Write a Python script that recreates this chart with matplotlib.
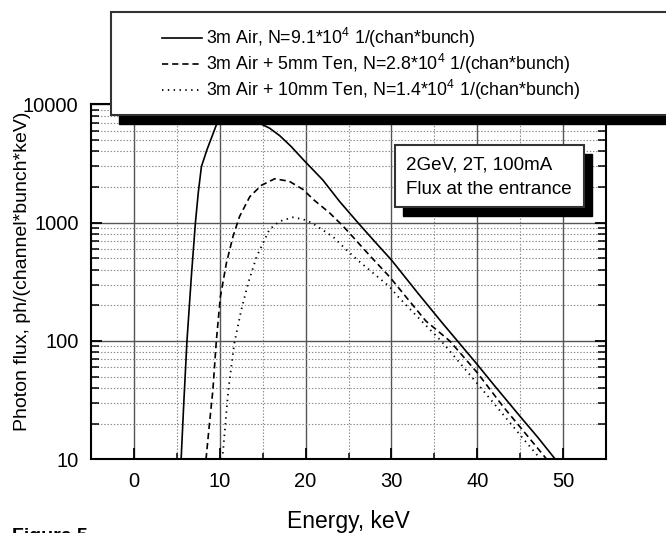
import matplotlib
matplotlib.use('Agg')
import matplotlib.pyplot as plt
from matplotlib.patches import Rectangle
from matplotlib.lines import Line2D
from matplotlib.ticker import FixedLocator, LogLocator, MultipleLocator, NullFormatter

plt.rcParams['font.family'] = ['Liberation Sans', 'DejaVu Sans']
plt.rcParams['mathtext.fontset'] = 'custom'
plt.rcParams['mathtext.rm'] = 'Liberation Sans'
plt.rcParams['mathtext.default'] = 'regular'
plt.rcParams['lines.scale_dashes'] = False

# ---------------- data ----------------
air_E = [5.5, 5.83, 6.18, 6.69, 7.16, 7.5, 7.86, 8.5, 8.94, 9.67, 10.5, 12.0, 13.5,
         14.65, 15.8, 17.0, 18.3, 19.9, 22.0, 24.0, 26.1, 28.0, 30.0, 33.1, 36.0,
         39.9, 42.0, 45.0, 47.0, 49.1]
air_F = [10, 32, 100, 350, 990, 1800, 2970, 4120, 5000, 6900, 7600, 7900, 7600,
         6920, 6300, 5430, 4420, 3310, 2300, 1500, 1000, 700, 484, 253, 140,
         64.6, 42, 23, 15.5, 10]

ten5_E = [8.4, 8.8, 9.2, 9.6, 10.07, 10.77, 11.54, 12.3, 13.5, 14.85, 16.4, 18.1,
          19.7, 21.0, 22.8, 24.4, 25.5, 27.5, 29.8, 31.7, 34.0, 36.8, 40.0, 43.0,
          46.0, 48.1]
ten5_F = [10, 20, 38.5, 100, 236, 454, 763, 1125, 1660, 2070, 2350, 2240,
          1910, 1550, 1210, 930, 760, 525, 348, 236, 148, 100, 54, 28,
          15.3, 10]

ten10_E = [10.3, 11.0, 11.7, 12.5, 13.3, 14.3, 15.4, 15.8, 17.0, 18.5, 19.7, 20.7,
           23.2, 24.8, 26.1, 29.8, 30.8, 33.0, 35.8, 39.9, 43.0, 45.5, 47.4]
ten10_F = [10, 38.5, 96, 182, 307, 518, 763, 880, 1030, 1110, 1070, 1000,
           760, 585, 480, 287, 236, 161, 100, 44.6, 24, 14.5, 10]

labels = ['3m Air, N=9.1*10$^{4}$ 1/(chan*bunch)',
          '3m Air + 5mm Ten, N=2.8*10$^{4}$ 1/(chan*bunch)',
          '3m Air + 10mm Ten, N=1.4*10$^{4}$ 1/(chan*bunch)']
x_ticks = [0, 10, 20, 30, 40, 50]
y_ticks = [10, 100, 1000, 10000]
y_ticklabels = ['10', '100', '1000', '10000']
info_lines = ['2GeV, 2T, 100mA', 'Flux at the entrance']

# ---------------- layout helpers ----------------
W, H = 666, 533
fig = plt.figure(figsize=(W / 100, H / 100), dpi=100)


def fx(px):
    return px / W


def fy(py):
    return 1 - py / H


L, R, T, B = 91, 606, 104.4, 459.3
ax = fig.add_axes([fx(L), fy(B), fx(R) - fx(L), fy(T) - fy(B)])

styles = [dict(color='black', lw=1.2, ls='-'),
          dict(color='black', lw=1.2, ls=(0, (4.5, 2.8))),
          dict(color='black', lw=1.3, ls=(0, (1.0, 3.2)))]

ax.plot(air_E, air_F, **styles[0])
ax.plot(ten5_E, ten5_F, **styles[1])
ax.plot(ten10_E, ten10_F, **styles[2])

ax.set_yscale('log')
ax.set_xlim(-5, 55)
ax.set_ylim(10, 10000)

ax.xaxis.set_major_locator(FixedLocator(x_ticks))
ax.xaxis.set_minor_locator(MultipleLocator(5))
ax.yaxis.set_major_locator(FixedLocator(y_ticks))
ax.set_yticklabels(y_ticklabels)
ax.yaxis.set_minor_locator(LogLocator(base=10, subs=range(2, 10)))
ax.yaxis.set_minor_formatter(NullFormatter())

ax.grid(True, which='major', color='#555555', lw=1.0, ls='-')
ax.grid(True, which='minor', color='#8a8a8a', lw=0.8, ls=(0, (1, 1.3)))
ax.set_axisbelow(True)

ax.tick_params(which='both', direction='in', top=True, right=True, color='black')
ax.tick_params(which='major', length=8, width=1.3, labelsize=14.5, pad=9)
ax.tick_params(axis='x', which='minor', length=4.5, width=1.1)
ax.tick_params(axis='y', which='minor', length=6, width=1.1)
for s in ax.spines.values():
    s.set_linewidth(1.5)
    s.set_color('black')

ax.set_xlabel('Energy, keV', fontsize=16.5)
ax.xaxis.set_label_coords(0.5, (B - 510) / (B - T))
ax.set_ylabel('Photon flux, ph/(channel*bunch*keV)', fontsize=14)
ax.yaxis.set_label_coords((31 - L) / (R - L), (B - 271.5) / (B - T))

# ---------------- legend box with shadow ----------------
lx0, ly0, lx1, ly1 = 111, 12, 700, 115
sh = (8, 9)
fig.add_artist(Rectangle((fx(lx0 + sh[0]), fy(ly1 + sh[1])), fx(lx1) - fx(lx0), fy(ly0) - fy(ly1),
                         transform=fig.transFigure, facecolor='black', edgecolor='black', zorder=5))
fig.add_artist(Rectangle((fx(lx0), fy(ly1)), fx(lx1) - fx(lx0), fy(ly0) - fy(ly1),
                         transform=fig.transFigure, facecolor='white', edgecolor='#333333',
                         lw=1.5, zorder=6))
for i, (lab, st) in enumerate(zip(labels, styles)):
    yy = fy(38 + i * 26)
    fig.add_artist(Line2D([fx(162), fx(202)], [yy, yy], transform=fig.transFigure,
                          zorder=7, **st))
    fig.text(fx(206), yy, lab, fontsize=12.8, va='center', ha='left', zorder=7)

# ---------------- info box with shadow ----------------
bx0, by0, bx1, by1 = 395, 145, 584, 207
fig.add_artist(Rectangle((fx(bx0 + sh[0]), fy(by1 + sh[1])), fx(bx1) - fx(bx0), fy(by0) - fy(by1),
                         transform=fig.transFigure, facecolor='black', edgecolor='black', zorder=5))
fig.add_artist(Rectangle((fx(bx0), fy(by1)), fx(bx1) - fx(bx0), fy(by0) - fy(by1),
                         transform=fig.transFigure, facecolor='white', edgecolor='#333333',
                         lw=1.5, zorder=6))
for i, t in enumerate(info_lines):
    fig.text(fx(406), fy(165 + i * 24), t, fontsize=13.5, va='center', ha='left', zorder=7)

fig.text(fx(12), fy(528), 'Figure 5', fontsize=14, fontweight='bold', va='top', ha='left')

fig.savefig('out.png', dpi=100)
